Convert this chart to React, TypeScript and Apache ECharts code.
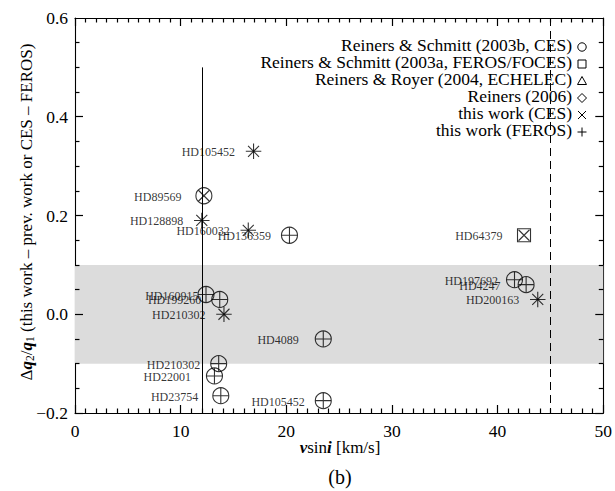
import React, { useEffect, useRef } from 'react';
import * as echarts from 'echarts';

// ---- data ----
const starNames = ['HD105452', 'HD89569', 'HD128898', 'HD160032', 'HD136359', 'HD64379', 'HD160915', 'HD199260', 'HD210302', 'HD4089', 'HD210302', 'HD22001', 'HD23754', 'HD105452', 'HD197692', 'HD4247', 'HD200163'];
const vsini = [16.9, 12.2, 12.0, 16.4, 20.3, 42.5, 12.4, 13.7, 14.1, 23.5, 13.6, 13.2, 13.8, 23.5, 41.6, 42.7, 43.8];
const dq = [0.33, 0.24, 0.19, 0.17, 0.16, 0.16, 0.04, 0.03, 0.0, -0.05, -0.10, -0.125, -0.165, -0.175, 0.07, 0.06, 0.03];
// previous work reference: RS03b = Reiners & Schmitt 2003b (circle), RS03a = 2003a (square)
const prevWork = ['', 'RS03b', '', '', 'RS03b', 'RS03a', 'RS03b', 'RS03b', '', 'RS03b', 'RS03b', 'RS03b', 'RS03b', 'RS03b', 'RS03b', 'RS03b', ''];
const thisCES = [1, 1, 1, 1, 0, 1, 0, 0, 1, 0, 0, 0, 0, 0, 0, 0, 1];
const thisFEROS = [1, 0, 1, 1, 1, 0, 1, 1, 1, 1, 1, 1, 1, 1, 1, 1, 1];

const legendRows = ['Reiners & Schmitt (2003b, CES)', 'Reiners & Schmitt (2003a, FEROS/FOCES)', 'Reiners & Royer (2004, ECHELEC)', 'Reiners (2006)', 'this work (CES)', 'this work (FEROS)'];
const bandRange = [-0.1, 0.1];
const solidLineX = 12;
const solidLineTop = 0.5;
const dashedLineX = 45;

// axis ranges and tick steps
const xRange = [0, 50];
const yRange = [-0.2, 0.6];
const xMajor = 10, xMinorN = 10;
const yMajor = 0.2, yMinorN = 4;

// layout (style)
const W = 615, H = 491;
const GRID = { left: 75, right: 10, top: 18, bottom: 78 };
const labelGap: Record<number, number> = { 1: 22, 5: 21, 6: 7, 9: 24, 11: 23, 12: 22, 14: 16, 15: 25 };

const FONT = "'Liberation Serif', 'Times New Roman', serif";

function makeAxis(kind: 'x' | 'y', position: string, showLabel: boolean) {
  const isX = kind === 'x';
  const ax: any = {
    type: 'value',
    position,
    min: isX ? xRange[0] : yRange[0],
    max: isX ? xRange[1] : yRange[1],
    interval: isX ? xMajor : yMajor,
    axisLine: { show: true, onZero: false, lineStyle: { color: '#000', width: 1.1 } },
    axisTick: { show: false },
    minorTick: { show: false },
    splitLine: { show: false },
    axisLabel: showLabel
      ? {
          show: true, color: '#000', fontFamily: FONT, fontSize: 17.5, margin: isX ? 9 : 7,
          formatter: isX ? undefined : (v: number) => v.toFixed(1).replace('-', '\u2212'),
        }
      : { show: false },
  };
  return ax;
}

export default function App() {
  const ref = useRef<HTMLDivElement>(null);
  useEffect(() => {
    if (!ref.current) return;
    const chart = echarts.init(ref.current, undefined, { renderer: 'svg' });
    const idx = starNames.map((_, i) => i);
    const circleData = idx.filter(i => prevWork[i] === 'RS03b').map(i => [vsini[i], dq[i]]);
    const squareData = idx.filter(i => prevWork[i] === 'RS03a').map(i => [vsini[i], dq[i]]);
    const cesData = idx.filter(i => thisCES[i]).map(i => [vsini[i], dq[i]]);
    const ferosData = idx.filter(i => thisFEROS[i]).map(i => [vsini[i], dq[i]]);
    const labelData = idx.map(i => ({
      name: starNames[i],
      value: [vsini[i], dq[i]],
      label: { distance: labelGap[i] ?? 18 },
    }));

    // inward tick marks as short mark lines placed on the axes' scale
    const xPerPx = (xRange[1] - xRange[0]) / (W - GRID.left - GRID.right);
    const yPerPx = (yRange[1] - yRange[0]) / (H - GRID.top - GRID.bottom);
    const tickLines: any[] = [];
    const xN = Math.round((xRange[1] - xRange[0]) / xMajor) * xMinorN;
    for (let k = 0; k <= xN; k++) {
      const v = xRange[0] + (k * xMajor) / xMinorN;
      const len = (k % xMinorN === 0 ? 8 : 4.5) * yPerPx;
      tickLines.push([{ coord: [v, yRange[0]] }, { coord: [v, yRange[0] + len] }]);
      tickLines.push([{ coord: [v, yRange[1]] }, { coord: [v, yRange[1] - len] }]);
    }
    const yN = Math.round((yRange[1] - yRange[0]) / yMajor) * yMinorN;
    for (let k = 0; k <= yN; k++) {
      const v = yRange[0] + (k * yMajor) / yMinorN;
      const len = (k % yMinorN === 0 ? 8 : 4.5) * xPerPx;
      tickLines.push([{ coord: [xRange[0], v] }, { coord: [xRange[0] + len, v] }]);
      tickLines.push([{ coord: [xRange[1], v] }, { coord: [xRange[1] - len, v] }]);
    }

    const stroke = { color: 'rgba(0,0,0,0)', borderColor: '#000', borderWidth: 1.1 };

    const legendGraphics: any[] = [];
    legendRows.forEach((t, i) => {
      const ty = 45 + i * 17;
      legendGraphics.push({
        type: 'text', x: 572, y: ty,
        style: { text: t, fontFamily: FONT, fontSize: 17.5, fill: '#000', textAlign: 'right', textVerticalAlign: 'middle' },
      });
      const sx = 582, sy = ty + 2;
      const ls = { stroke: '#000', lineWidth: 1, fill: 'none' };
      if (i === 0) legendGraphics.push({ type: 'circle', shape: { cx: sx, cy: sy, r: 4.2 }, style: ls });
      if (i === 1) legendGraphics.push({ type: 'rect', shape: { x: sx - 4, y: sy - 4, width: 8, height: 8 }, style: ls });
      if (i === 2) legendGraphics.push({ type: 'polygon', shape: { points: [[sx - 4.5, sy + 3.5], [sx + 4.5, sy + 3.5], [sx, sy - 4.5]] }, style: ls });
      if (i === 3) legendGraphics.push({ type: 'polygon', shape: { points: [[sx, sy - 4.5], [sx + 4.5, sy], [sx, sy + 4.5], [sx - 4.5, sy]] }, style: ls });
      if (i === 4) {
        legendGraphics.push({ type: 'line', shape: { x1: sx - 4, y1: sy - 4, x2: sx + 4, y2: sy + 4 }, style: ls });
        legendGraphics.push({ type: 'line', shape: { x1: sx - 4, y1: sy + 4, x2: sx + 4, y2: sy - 4 }, style: ls });
      }
      if (i === 5) {
        legendGraphics.push({ type: 'line', shape: { x1: sx - 4.5, y1: sy, x2: sx + 4.5, y2: sy }, style: ls });
        legendGraphics.push({ type: 'line', shape: { x1: sx, y1: sy - 4.5, x2: sx, y2: sy + 4.5 }, style: ls });
      }
    });

    const rich = {
      r: { fontFamily: FONT, fontSize: 17, fill: '#000' },
      bi: { fontFamily: FONT, fontSize: 17, fontWeight: 'bold', fontStyle: 'italic', fill: '#000' },
      sub: { fontFamily: FONT, fontSize: 11.5, fill: '#000', padding: [7, 0, 0, 0] },
    };

    chart.setOption({
      animation: false,
      grid: GRID,
      xAxis: [makeAxis('x', 'bottom', true), makeAxis('x', 'top', false)],
      yAxis: [makeAxis('y', 'left', true), makeAxis('y', 'right', false)],
      graphic: [
        ...legendGraphics,
        {
          type: 'text', x: 26, y: 212, rotation: Math.PI / 2,
          style: { text: '{r|\u0394}{bi|q}{sub|2}{r|/}{bi|q}{sub|1}{r| (this work \u2013 prev. work or CES \u2013 FEROS)}', rich, textAlign: 'center', textVerticalAlign: 'middle' },
        },
        {
          type: 'text', x: 340, y: 447,
          style: { text: '{bi|v}{r|sin}{bi|i}{r| [km/s]}', rich, textAlign: 'center', textVerticalAlign: 'middle' },
        },
        {
          type: 'text', x: 340, y: 477,
          style: { text: '(b)', fontFamily: FONT, fontSize: 20, fill: '#000', textAlign: 'center', textVerticalAlign: 'middle' },
        },
      ],
      series: [
        {
          type: 'scatter', name: 'band', data: [], z: 0, silent: true,
          markArea: { silent: true, itemStyle: { color: '#dcdcdc' }, data: [[{ yAxis: bandRange[0], xAxis: xRange[0] }, { yAxis: bandRange[1], xAxis: xRange[1] }]] },
          markLine: {
            silent: true, symbol: 'none', label: { show: false },
            data: [
              [{ coord: [solidLineX, solidLineTop], lineStyle: { color: '#000', width: 1, type: 'solid' } }, { coord: [solidLineX, yRange[0]] }],
              [{ coord: [dashedLineX, yRange[1]], lineStyle: { color: '#000', width: 1, type: [8, 5] } }, { coord: [dashedLineX, yRange[0]] }],
            ],
          },
        },
        {
          type: 'scatter', name: 'ticks', data: [], z: 6, silent: true,
          markLine: {
            silent: true, symbol: 'none', label: { show: false },
            lineStyle: { color: '#000', width: 1.2, type: 'solid' },
            emphasis: { disabled: true },
            data: tickLines,
          },
        },
        { type: 'scatter', name: legendRows[0], symbol: 'circle', symbolSize: 16, itemStyle: stroke, data: circleData, z: 3 },
        { type: 'scatter', name: legendRows[1], symbol: 'rect', symbolSize: 13, itemStyle: stroke, data: squareData, z: 3 },
        { type: 'scatter', name: legendRows[4], symbol: 'path://M0,0L10,10M10,0L0,10', symbolSize: 11, itemStyle: stroke, data: cesData, z: 3 },
        { type: 'scatter', name: legendRows[5], symbol: 'path://M5,0L5,10M0,5L10,5', symbolSize: 15.5, itemStyle: stroke, data: ferosData, z: 3 },
        {
          type: 'scatter', name: 'labels', symbolSize: 1, itemStyle: { color: 'rgba(0,0,0,0)' }, data: labelData, z: 4, silent: true,
          label: { show: true, position: 'left', formatter: '{b}', color: '#000', fontFamily: FONT, fontSize: 12, offset: [0, 1] },
        },
      ],
    });
    return () => chart.dispose();
  }, []);
  return <div ref={ref} style={{ position: 'absolute', left: 0, top: 0, width: W, height: H }} />;
}
